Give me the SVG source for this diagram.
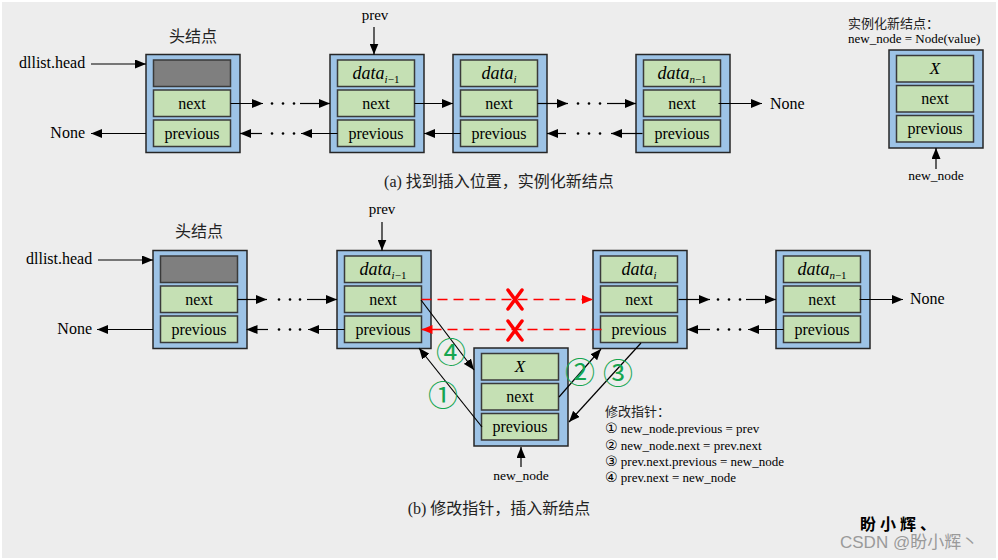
<svg xmlns="http://www.w3.org/2000/svg" width="998" height="560" viewBox="0 0 998 560">
<style>
.outer{fill:#9dc3e6;stroke:#262626;stroke-width:1.5}
.cell{fill:#c5e0b4;stroke:#3a3a3a;stroke-width:1.5}
.gray{fill:#7f7f7f;stroke:#3a3a3a;stroke-width:1.5}
.t{font-family:'Liberation Serif','Times New Roman','DejaVu Serif',serif;font-size:16px;fill:#000}
.cj{font-family:'Liberation Serif','Noto Sans CJK SC',serif;font-size:16px;fill:#222}
.c{text-anchor:middle}
.d{font-style:italic;font-size:18px}
.sub{font-size:11px}
.s13{font-size:13px}
.lbl{font-size:13.5px}
.pv{font-size:15px}
.xx{font-style:italic;font-size:17px}
.circ{font-family:'DejaVu Sans','Noto Sans CJK SC',sans-serif;font-size:14px}
.conn{stroke:#000;stroke-width:1.2;fill:none;marker-end:url(#ah)}
.red{stroke:#ff0000;stroke-width:1.6;fill:none;stroke-dasharray:10 6;marker-end:url(#ahr)}
.xm{stroke:#ff0000;stroke-width:3.5;fill:none;stroke-linecap:round}
.num{font-family:'Noto Sans CJK SC',sans-serif;font-size:30px;fill:#15a550;text-anchor:middle}
.dot{fill:#000}
</style>
<defs>
<marker id="ah" markerUnits="userSpaceOnUse" markerWidth="11" markerHeight="9" refX="11" refY="4.5" orient="auto"><path d="M0,0 L11,4.5 L0,9 z" fill="#000"/></marker>
<marker id="ahr" markerUnits="userSpaceOnUse" markerWidth="11" markerHeight="9" refX="11" refY="4.5" orient="auto"><path d="M0,0 L11,4.5 L0,9 z" fill="#ff0000"/></marker>
<g id="tpl">
<rect class="outer" x="0" y="0" width="94" height="98"/>
<rect class="cell" x="7.5" y="35.5" width="77" height="26.5"/>
<rect class="cell" x="7.5" y="65.5" width="77" height="26.5"/>
<text class="t c" x="46" y="54">next</text>
<text class="t c" x="46" y="84">previous</text>
</g>
</defs>
<rect x="0" y="0" width="998" height="560" fill="#ffffff"/>
<rect x="2" y="2" width="994" height="556" fill="#ededed"/>

<!-- (a) top row -->
<text class="cj c" x="193" y="42">头结点</text>
<text class="t" x="19" y="68">dllist.head</text>
<text class="t" x="85" y="138" text-anchor="end">None</text>
<text class="t c pv" x="375" y="20">prev</text>
<text class="t" x="770" y="109">None</text>
<text class="cj c" x="499" y="187">(a) 找到插入位置，实例化新结点</text>
<text class="cj s13" x="848" y="28">实例化新结点：</text>
<text class="t s13" x="848" y="43">new_node = Node(value)</text>
<text class="t c lbl" x="936" y="180">new_node</text>

<g id="a-head" transform="translate(146,54.5)">
<use href="#tpl"/>
<rect class="gray" x="7.5" y="5.5" width="77" height="26.5"/>
</g>
<g id="a-prev" transform="translate(330,54.5)">
<use href="#tpl"/>
<rect class="cell" x="7.5" y="5.5" width="77" height="26.5"/>
<text class="t c" x="46" y="24"><tspan class="d">data</tspan><tspan class="sub" dy="4"><tspan font-style="italic">i</tspan>−1</tspan></text>
</g>
<g id="a-cur" transform="translate(453,54.5)">
<use href="#tpl"/>
<rect class="cell" x="7.5" y="5.5" width="77" height="26.5"/>
<text class="t c" x="46" y="24"><tspan class="d">data</tspan><tspan class="sub" dy="4" font-style="italic">i</tspan></text>
</g>
<g id="a-last" transform="translate(636,54.5)">
<use href="#tpl"/>
<rect class="cell" x="7.5" y="5.5" width="77" height="26.5"/>
<text class="t c" x="46" y="24"><tspan class="d">data</tspan><tspan class="sub" dy="4"><tspan font-style="italic">n</tspan>−1</tspan></text>
</g>
<g id="a-new" transform="translate(889,50)">
<use href="#tpl"/>
<rect class="cell" x="7.5" y="5.5" width="77" height="26.5"/>
<text class="t c xx" x="46" y="24">X</text>
</g>

<!-- (b) bottom row -->
<text class="cj c" x="199" y="237">头结点</text>
<text class="t" x="26" y="264">dllist.head</text>
<text class="t" x="92" y="334" text-anchor="end">None</text>
<text class="t c pv" x="382" y="214">prev</text>
<text class="t" x="910" y="304">None</text>
<text class="t c lbl" x="521" y="480">new_node</text>
<text class="cj c" x="499" y="514">(b) 修改指针，插入新结点</text>
<text class="cj s13" x="605" y="416">修改指针：</text>
<text class="t s13" x="605" y="433"><tspan class="circ">①</tspan> new_node.previous = prev</text>
<text class="t s13" x="605" y="449.5"><tspan class="circ">②</tspan> new_node.next = prev.next</text>
<text class="t s13" x="605" y="466"><tspan class="circ">③</tspan> prev.next.previous = new_node</text>
<text class="t s13" x="605" y="482"><tspan class="circ">④</tspan> prev.next = new_node</text>

<g id="b-head" transform="translate(153,250.5)">
<use href="#tpl"/>
<rect class="gray" x="7.5" y="5.5" width="77" height="26.5"/>
</g>
<g id="b-prev" transform="translate(337,250.5)">
<use href="#tpl"/>
<rect class="cell" x="7.5" y="5.5" width="77" height="26.5"/>
<text class="t c" x="46" y="24"><tspan class="d">data</tspan><tspan class="sub" dy="4"><tspan font-style="italic">i</tspan>−1</tspan></text>
</g>
<g id="b-cur" transform="translate(593,250.5)">
<use href="#tpl"/>
<rect class="cell" x="7.5" y="5.5" width="77" height="26.5"/>
<text class="t c" x="46" y="24"><tspan class="d">data</tspan><tspan class="sub" dy="4" font-style="italic">i</tspan></text>
</g>
<g id="b-last" transform="translate(776,250.5)">
<use href="#tpl"/>
<rect class="cell" x="7.5" y="5.5" width="77" height="26.5"/>
<text class="t c" x="46" y="24"><tspan class="d">data</tspan><tspan class="sub" dy="4"><tspan font-style="italic">n</tspan>−1</tspan></text>
</g>
<g id="b-new" transform="translate(474,348)">
<use href="#tpl"/>
<rect class="cell" x="7.5" y="5.5" width="77" height="26.5"/>
<text class="t c xx" x="46" y="24">X</text>
</g>

<g id="connectors">
<path class="conn" d="M91,64 L146,64"/>
<path class="conn" d="M230.5,103.5 L263,103.5"/>
<path class="conn" d="M300,103.5 L330,103.5"/>
<path class="conn" d="M262,133.5 L240,133.5"/>
<path class="conn" d="M337.5,133.5 L301,133.5"/>
<path class="conn" d="M146,133.5 L91,133.5"/>
<path class="conn" d="M414.5,103.5 L453,103.5"/>
<path class="conn" d="M460.5,133.5 L424,133.5"/>
<path class="conn" d="M537.5,103.5 L568,103.5"/>
<path class="conn" d="M607,103.5 L636,103.5"/>
<path class="conn" d="M566,133.5 L547,133.5"/>
<path class="conn" d="M642.5,133.5 L611,133.5"/>
<path class="conn" d="M718.5,103.5 L762,103.5"/>
<path class="conn" d="M374,27 L374,54.5"/>
<path class="conn" d="M936,169 L936,148"/>
<g class="dot">
<circle cx="272" cy="103.5" r="1.3"/><circle cx="283" cy="103.5" r="1.3"/><circle cx="294" cy="103.5" r="1.3"/>
<circle cx="272" cy="133.5" r="1.3"/><circle cx="283" cy="133.5" r="1.3"/><circle cx="294" cy="133.5" r="1.3"/>
<circle cx="578" cy="103.5" r="1.3"/><circle cx="589" cy="103.5" r="1.3"/><circle cx="600" cy="103.5" r="1.3"/>
<circle cx="578" cy="133.5" r="1.3"/><circle cx="589" cy="133.5" r="1.3"/><circle cx="600" cy="133.5" r="1.3"/>
</g>
<path class="conn" d="M98,260 L153,260"/>
<path class="conn" d="M237.5,299.5 L267,299.5"/>
<path class="conn" d="M307,299.5 L337,299.5"/>
<path class="conn" d="M268,329.5 L246.5,329.5"/>
<path class="conn" d="M344.5,329.5 L308,329.5"/>
<path class="conn" d="M153,329.5 L97,329.5"/>
<path class="red" d="M421.5,299.5 L593,299.5"/>
<path class="red" d="M601.5,329.5 L421.5,329.5"/>
<path class="conn" d="M678.5,299.5 L710,299.5"/>
<path class="conn" d="M746,299.5 L776,299.5"/>
<path class="conn" d="M710,329.5 L687,329.5"/>
<path class="conn" d="M783.5,329.5 L748,329.5"/>
<path class="conn" d="M859.5,299.5 L903,299.5"/>
<path class="conn" d="M382,222 L382,250.5"/>
<path class="conn" d="M521,467 L521,447"/>
<path class="conn" d="M421,300 L474,370"/>
<path class="conn" d="M482,427 L419,348"/>
<path class="conn" d="M559,397 L601,349"/>
<path class="conn" d="M641,343 L569,422"/>
<g class="dot">
<circle cx="279" cy="299.5" r="1.3"/><circle cx="290" cy="299.5" r="1.3"/><circle cx="300" cy="299.5" r="1.3"/>
<circle cx="279" cy="329.5" r="1.3"/><circle cx="290" cy="329.5" r="1.3"/><circle cx="300" cy="329.5" r="1.3"/>
<circle cx="718" cy="299.5" r="1.3"/><circle cx="729" cy="299.5" r="1.3"/><circle cx="740" cy="299.5" r="1.3"/>
<circle cx="718" cy="329.5" r="1.3"/><circle cx="729" cy="329.5" r="1.3"/><circle cx="740" cy="329.5" r="1.3"/>
</g>
<path class="xm" d="M508,290 L522,309 M522,290 L508,309"/>
<path class="xm" d="M508,321 L522,340 M522,321 L508,340"/>
<text class="num" x="451" y="363">④</text>
<text class="num" x="443" y="406">①</text>
<text class="num" x="580" y="383">②</text>
<text class="num" x="618" y="384">③</text>
</g>

<text x="860" y="530" font-family="'Liberation Serif','Noto Sans CJK SC',serif" font-size="16" font-weight="bold" fill="#000" letter-spacing="4">盼小辉、</text>
<text x="840" y="548" font-family="'Liberation Sans','Noto Sans CJK SC',sans-serif" font-size="17" fill="#9a9a9a">CSDN @盼小辉丶</text>
</svg>
